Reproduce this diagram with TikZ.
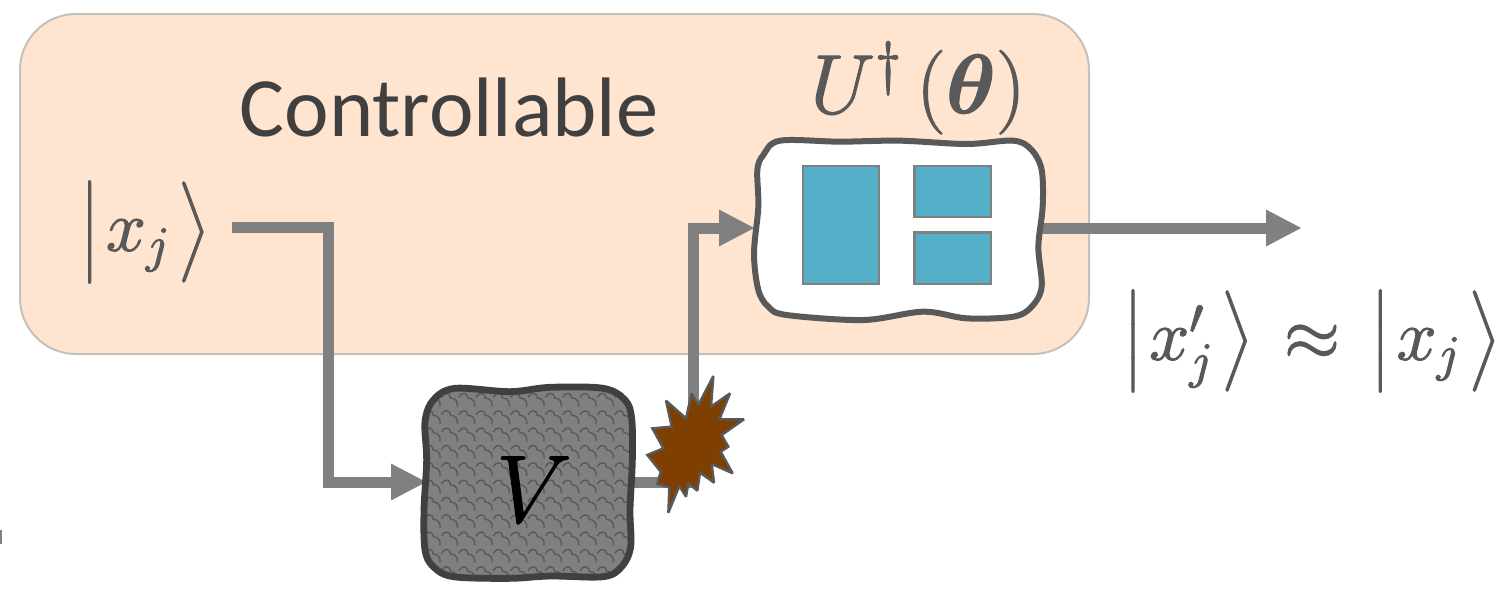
\RequirePackage{fix-cm}
\documentclass[tikz,border=0pt]{standalone}
\usepackage{amsmath}
\usepackage{fontspec}
\setmainfont{Carlito}
\usetikzlibrary{arrows.meta}
\definecolor{panelfill}{HTML}{FFE5CF}
\definecolor{panelline}{HTML}{C4C0BC}
\definecolor{wire}{HTML}{808080}
\definecolor{txt}{HTML}{404040}
\definecolor{mtxt}{HTML}{595959}
\definecolor{cell}{HTML}{54AFC8}
\definecolor{burst}{HTML}{7F3F00}
\newcommand{\ketL}{\raisebox{-0.02em}{\scalebox{1}[1.12]{$\bigl|$}}}
\newcommand{\ketR}{\raisebox{-0.02em}{\scalebox{1}[1.12]{$\bigr\rangle$}}}
\newcommand{\heavy}[1]{\special{pdf:code 2 Tr 0.55 w}#1\special{pdf:code 0 Tr 1 w}}
\tikzset{
  x=0.5pt,y=-0.5pt,
  panel/.style={draw=panelline,line width=1pt,fill=panelfill,rounded corners=28pt},
  wirearrow/.style={draw=wire,line width=5.5pt,-{Triangle[length=18pt,width=17pt]}},
  cellbox/.style={draw=wire,line width=1.3pt,fill=cell,inner sep=0pt,outer sep=0pt},
  label/.style={inner sep=0pt,text=mtxt,font=\fontsize{36}{40}\selectfont},
  zoomA/.style={shift={(400,360)},x=0.16667pt,y=-0.16667pt},
  zoomB/.style={shift={(740,40)},x=0.16667pt,y=-0.16667pt},
}
\begin{document}
\begin{tikzpicture}
\useasboundingbox (0,0) rectangle (1499,594);
\fill[white] (0,0) rectangle (1499,594);
\fill[gray] (0,530) rectangle (2,544);
\draw[panel] (20,14) rectangle (1089,354);
\node[inner sep=0pt,text=txt,font=\fontsize{42.2}{44}\selectfont] (title) at (449,108) {Controllable};

% named connector ends
\coordinate (inStart) at (232,227);
\coordinate (vIn) at (427,482);
\coordinate (vOut) at (630,482);
\coordinate (uIn) at (755,228);
\coordinate (uOut) at (1040,228);
\coordinate (outEnd) at (1302,228);

\draw[wirearrow] (inStart) -- (328,227) -- (328,482) -- (vIn);
\draw[wirearrow] (vOut) -- (693,482) -- (693,228) -- (uIn);
\draw[wirearrow] (uOut) -- (outEnd);

% V block
\begin{scope}[zoomA]
\def\vblob{plot[smooth cycle,tension=.55] coordinates {(75,185) (100,120) (165,85) (330,95) (450,82) (610,85) (675,120) (695,175) (697,300) (690,450) (692,560) (665,620) (610,650) (450,648) (330,655) (160,650) (100,620) (75,570) (72,450) (80,300)}}
\fill[fill=wire] \vblob;
\begin{scope}
\clip \vblob;
\foreach \px in {20,72,...,740}{
 \foreach \py in {60,112,...,680}{
  \draw[draw=mtxt,line width=0.7pt] (\px,\py) .. controls (\px+8,\py-16) and (\px+26,\py-16) .. (\px+28,\py+2)
     .. controls (\px+44,\py+2) and (\px+50,\py+16) .. (\px+48,\py+28);
 }}
\end{scope}
\draw[draw=txt,line width=3.4pt] \vblob;
\node[inner sep=0pt,text=black,font=\fontsize{48}{52}\selectfont] (V) at (402,388) {\heavy{$V$}};
% burst
\filldraw[fill=burst,draw=mtxt,line width=1.2pt,line join=miter,miter limit=2]
 (940,48) -- (933,140) -- (990,100) -- (958,178) -- (1032,178) -- (965,225) -- (985,260) -- (962,275) -- (998,340) -- (935,312) -- (942,368) -- (900,338) -- (892,392) -- (865,370) -- (858,410) -- (838,378) -- (805,458) -- (808,382) -- (772,372) -- (782,335) -- (742,285) -- (790,265) -- (757,205) -- (815,200) -- (798,122) -- (858,175) -- (875,100) -- (895,135) -- cycle;
\end{scope}

% U block
\begin{scope}[zoomB]
\filldraw[fill=white,draw=mtxt,line width=3pt]
 plot[smooth cycle,tension=.55] coordinates {(52,390) (70,345) (120,302) (300,305) (480,302) (680,312) (820,302) (875,330) (905,390) (908,500) (895,620) (905,740) (875,800) (820,830) (680,835) (550,815) (370,840) (140,825) (85,800) (55,750) (42,640) (55,500)};
\end{scope}
\node[cellbox,minimum width=38pt,minimum height=59pt] (cellA) at (841,225) {};
\node[cellbox,minimum width=38.2pt,minimum height=25.5pt] (cellB) at (952.7,191.5) {};
\node[cellbox,minimum width=38.2pt,minimum height=25.8pt] (cellC) at (952.7,258.2) {};

\node[label,font=\fontsize{42}{46}\selectfont] (utheta) at (918,88) {\heavy{$U^{\dagger}\,(\boldsymbol{\theta})$}};
\node[label] (ketin) at (145,232) {\heavy{$\ketL\mkern2mu x_j\mkern2mu\ketR$}};
\node[label] (ketout) at (1312,341) {\heavy{$\ketL\mkern2mu x_j'\mkern2mu\ketR\mkern3mu\approx\mkern3mu\ketL\mkern2mu x_j\mkern2mu\ketR$}};
\end{tikzpicture}
\end{document}
